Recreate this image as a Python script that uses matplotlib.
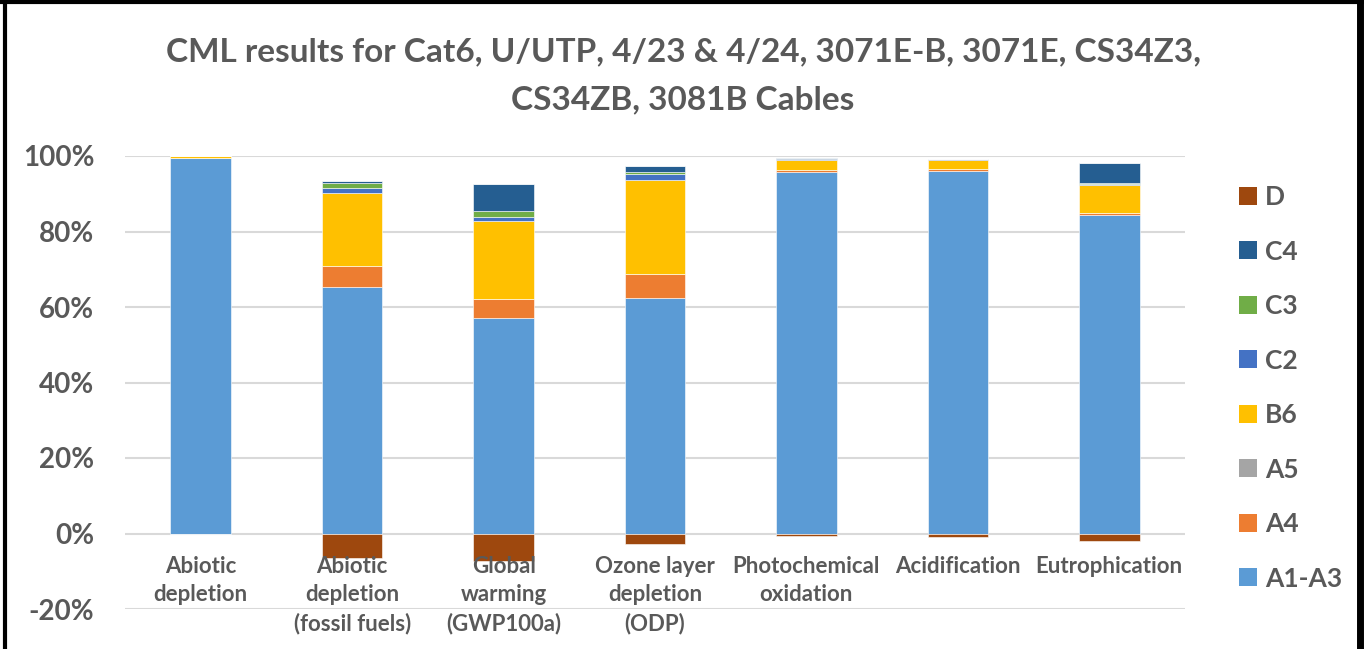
import matplotlib
matplotlib.use("Agg")
import matplotlib.pyplot as plt
from matplotlib.patches import Patch
from matplotlib.lines import Line2D
import numpy as np

categories = ["Abiotic\ndepletion", "Abiotic\ndepletion\n(fossil fuels)", "Global\nwarming\n(GWP100a)",
              "Ozone layer\ndepletion\n(ODP)", "Photochemical\noxidation", "Acidification", "Eutrophication"]
series_names = ["A1-A3", "A4", "A5", "B6", "C2", "C3", "C4", "D"]
a1_a3 = [99.4, 65.3, 57.0, 62.3, 95.8, 96.1, 84.4]
a4 = [0.0, 5.5, 5.0, 6.4, 0.5, 0.4, 0.4]
a5 = [0.0, 0.1, 0.1, 0.1, 0.1, 0.1, 0.1]
b6 = [0.5, 19.4, 20.7, 24.9, 2.5, 2.4, 7.5]
c2 = [0.0, 1.3, 1.1, 1.4, 0.2, 0.1, 0.2]
c3 = [0.0, 1.2, 1.6, 0.7, 0.2, 0.1, 0.3]
c4 = [0.0, 0.6, 7.2, 1.5, 0.2, 0.1, 5.3]
d = [0.0, -6.5, -7.3, -2.9, -0.7, -1.0, -2.0]
ytick_values = [-20, 0, 20, 40, 60, 80, 100]
ytick_labels = ["-20%", "0%", "20%", "40%", "60%", "80%", "100%"]
title = "CML results for Cat6, U/UTP, 4/23 & 4/24, 3071E-B, 3071E, CS34Z3,\nCS34ZB, 3081B Cables"

colors = {"A1-A3": "#5B9BD5", "A4": "#ED7D31", "A5": "#A5A5A5", "B6": "#FFC000",
          "C2": "#4472C4", "C3": "#70AD47", "C4": "#255E91", "D": "#9E480E"}
series = {"A1-A3": a1_a3, "A4": a4, "A5": a5, "B6": b6, "C2": c2, "C3": c3, "C4": c4, "D": d}

FONT = ["Lato", "DejaVu Sans"]
GRAY = "#595959"
W, H = 1364, 649
fig = plt.figure(figsize=(W / 100, H / 100), dpi=100)
fig.patch.set_facecolor("white")

def px(x0, y0, x1, y1):
    return [x0 / W, 1 - y1 / H, (x1 - x0) / W, (y1 - y0) / H]

ax = fig.add_axes(px(125, 156, 1185, 609))
ax.set_xlim(-0.5, len(categories) - 0.5)
ax.set_ylim(-20, 100)
for s in ax.spines.values():
    s.set_visible(False)
ax.set_yticks(ytick_values)
ax.set_yticklabels(ytick_labels, fontfamily=FONT, fontweight="bold", fontsize=20, color=GRAY)
ax.tick_params(axis="y", length=0, pad=22)
ax.set_xticks([])
ax.grid(axis="y", color="#D9D9D9", linewidth=1.5)
ax.set_axisbelow(True)

x = np.arange(len(categories))
pos_bottom = np.zeros(len(categories))
neg_bottom = np.zeros(len(categories))
for name in series_names:
    vals = np.array(series[name], dtype=float)
    pos = np.where(vals > 0, vals, 0)
    neg = np.where(vals < 0, vals, 0)
    ax.bar(x, pos, 0.40, bottom=pos_bottom, color=colors[name], edgecolor="white", linewidth=0.4)
    if np.any(neg < 0):
        ax.bar(x, neg, 0.40, bottom=neg_bottom, color=colors[name], edgecolor="white", linewidth=0.4)
    pos_bottom += pos
    neg_bottom += neg

for i, lab in enumerate(categories):
    ax.annotate(lab, xy=(i, 0), xytext=(0, -16), textcoords="offset points",
                ha="center", va="top", fontfamily=FONT, fontweight="bold", fontsize=16,
                color=GRAY, linespacing=1.43)

fig.text(683 / W, 1 - 76 / H, title, ha="center", va="center", fontfamily=FONT,
         fontweight="bold", fontsize=24, color=GRAY, linespacing=1.8)

handles = [Patch(facecolor=colors[n], edgecolor="none", label=n) for n in reversed(series_names)]
leg = fig.legend(handles=handles, loc="upper left", bbox_to_anchor=(1226 / W, 1 - 172 / H),
                 frameon=False, prop={"family": FONT, "weight": "bold", "size": 19},
                 labelcolor=GRAY, handlelength=0.68, handleheight=0.68, handletextpad=0.3,
                 labelspacing=1.155, borderpad=0)

# outer frame
fig.add_artist(Line2D([5 / W, 5 / W], [0, 1], transform=fig.transFigure, color="black", linewidth=3))
fig.add_artist(Line2D([0, 1], [1 - 2 / H, 1 - 2 / H], transform=fig.transFigure, color="black", linewidth=3))
fig.add_artist(Line2D([1360 / W, 1360 / W], [0, 1], transform=fig.transFigure, color="black", linewidth=5))

fig.savefig("out.png", dpi=100, facecolor="white")
